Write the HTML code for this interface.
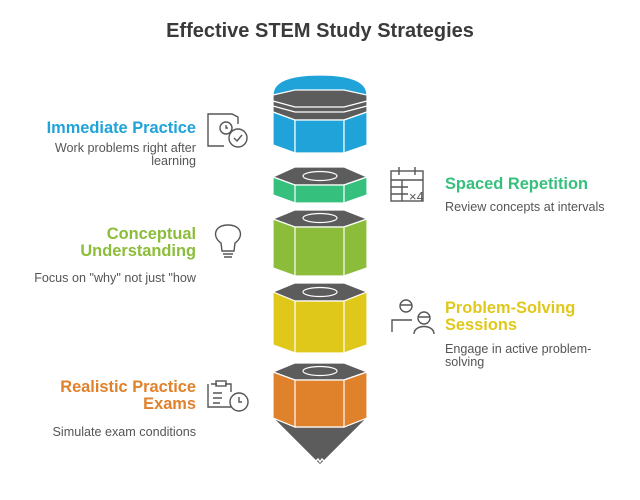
<!DOCTYPE html>
<html><head><style>
body{margin:0;background:#fff;width:640px;height:500px;overflow:hidden}
svg{display:block}
text{font-family:"Liberation Sans",sans-serif}
.h{font-weight:bold;font-size:16.4px}
.d{font-size:12.6px;fill:#555}
.ic{fill:none;stroke:#555;stroke-width:1.4}
</style></head><body>
<svg width="640" height="500" viewBox="0 0 640 500">
<text x="320" y="37" text-anchor="middle" font-size="20" font-weight="bold" fill="#3a3a3a">Effective STEM Study Strategies</text>

<g stroke="#fff" stroke-width="1.2">
<path d="M273 95 Q273 75 320 75 Q367 75 367 95 L344 100 L295 100 Z" fill="#1fa3d9"/>
<path d="M273 95 L295 90 L344 90 L367 95 L367 112 L344 120 L295 120 L273 112 Z" fill="#5c5c5c"/>
<path d="M273 101 L295 107 L344 107 L367 101 M273 106 L295 112 L344 112 L367 106" fill="none"/>
<path d="M273 112 L295 120 L295 153 L273 145 Z" fill="#1fa3d9"/>
<path d="M295 120 L344 120 L344 153 L295 153 Z" fill="#1fa3d9"/>
<path d="M344 120 L367 112 L367 145 L344 153 Z" fill="#1fa3d9"/>
</g>

<g stroke="#fff" stroke-width="1.2">
<path d="M273 177 L295 167 L344 167 L367 177 L344 185 L295 185 Z" fill="#5c5c5c"/>
<path d="M273 177 L295 185 L295 203 L273 195 Z M295 185 L344 185 L344 203 L295 203 Z M344 185 L367 177 L367 195 L344 203 Z" fill="#36c07e"/>
<ellipse cx="320" cy="176" rx="17" ry="4.5" fill="none"/>

<path d="M273 219 L295 210 L344 210 L367 219 L344 227 L295 227 Z" fill="#5c5c5c"/>
<path d="M273 219 L295 227 L295 276 L273 268 Z M295 227 L344 227 L344 276 L295 276 Z M344 227 L367 219 L367 268 L344 276 Z" fill="#8cbd3a"/>
<ellipse cx="320" cy="218" rx="17" ry="4.5" fill="none"/>

<path d="M273 292 L295 283 L344 283 L367 292 L344 301 L295 301 Z" fill="#5c5c5c"/>
<path d="M273 292 L295 301 L295 353 L273 345 Z M295 301 L344 301 L344 353 L295 353 Z M344 301 L367 292 L367 345 L344 353 Z" fill="#e0c81b"/>
<ellipse cx="320" cy="292" rx="17" ry="4.5" fill="none"/>

<path d="M273 418 L295 427 L344 427 L367 418 L320 465 Z" fill="#5c5c5c"/>
<path d="M273 372 L295 363 L344 363 L367 372 L344 380 L295 380 Z" fill="#5c5c5c"/>
<path d="M273 372 L295 380 L295 427 L273 418 Z M295 380 L344 380 L344 427 L295 427 Z M344 380 L367 372 L367 418 L344 427 Z" fill="#e0812b"/>
<ellipse cx="320" cy="371" rx="17" ry="4.5" fill="none"/>
<path d="M315 462 L318 459 L320 462 L322 459 L325 462" fill="none" stroke-width="1.5"/>
</g>

<text x="196" y="133" text-anchor="end" class="h" fill="#1fa3d9">Immediate Practice</text>
<text x="196" y="152" text-anchor="end" class="d">Work problems right after</text>
<text x="196" y="165" text-anchor="end" class="d">learning</text>

<text x="445" y="189" class="h" fill="#36c07e">Spaced Repetition</text>
<text x="445" y="211" class="d">Review concepts at intervals</text>

<text x="196" y="239" text-anchor="end" class="h" fill="#8cbd3a">Conceptual</text>
<text x="196" y="256" text-anchor="end" class="h" fill="#8cbd3a">Understanding</text>
<text x="196" y="282" text-anchor="end" class="d">Focus on "why" not just "how</text>

<text x="445" y="313" class="h" fill="#e0c81b">Problem-Solving</text>
<text x="445" y="330" class="h" fill="#e0c81b">Sessions</text>
<text x="445" y="353" class="d">Engage in active problem-</text>
<text x="445" y="366" class="d">solving</text>

<text x="196" y="392" text-anchor="end" class="h" fill="#e0812b">Realistic Practice</text>
<text x="196" y="409" text-anchor="end" class="h" fill="#e0812b">Exams</text>
<text x="196" y="436" text-anchor="end" class="d">Simulate exam conditions</text>

<g class="ic">
<path d="M238 124 V117 L232 114 H208 V146 H224"/>
<circle cx="226" cy="128" r="6"/><path d="M226 125 V128 H228"/>
<circle cx="238" cy="138" r="9"/><path d="M234 138 L237 141 L242 135"/>

<rect x="391" y="171" width="32" height="30"/><path d="M391 180 H423 M399 167 V175 M415 167 V175 M391 187 H408 M391 194 H408 M402 180 V201"/>
<text x="409" y="201" font-size="13" fill="#555" stroke="none">×4</text>

<path d="M221 243 C212 237 214 225 228 225 C242 225 244 237 235 243 L234 251 H222 Z"/><path d="M223 254 H233 M224 257 H232"/>

<circle cx="406" cy="306" r="6"/><path d="M400 305 H412 M392 332 V320 H412"/>
<circle cx="424" cy="318" r="6"/><path d="M418 317 H430 M414 334 C414 324 434 324 434 334"/>

<path d="M211 384 H217 M225 384 H231 V392 M231 407 H208 V384"/><rect x="216" y="381" width="10" height="5"/>
<path d="M213 393 H222 M213 398 H222 M213 403 H220"/>
<circle cx="239" cy="402" r="9"/><path d="M239 397 V402 H242"/>
</g>
</svg>
</body></html>
